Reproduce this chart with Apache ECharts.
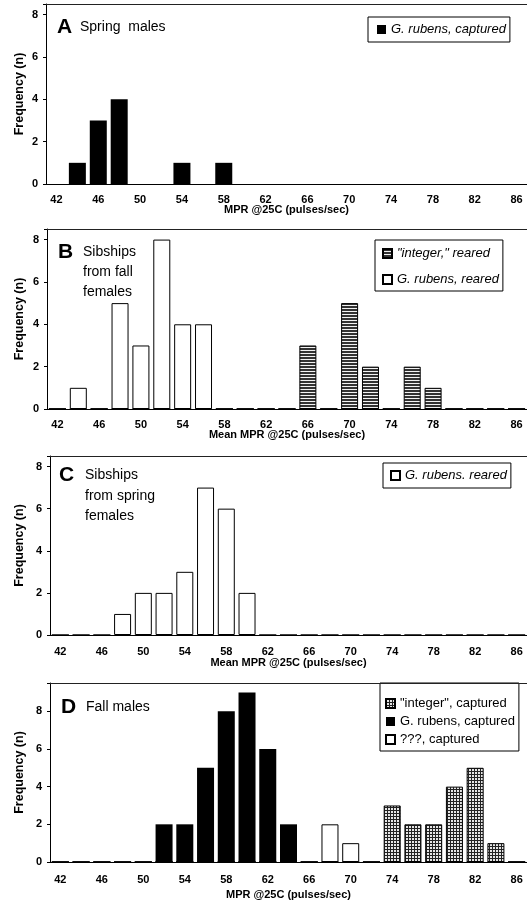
<!DOCTYPE html>
<html>
<head>
<meta charset="utf-8">
<script src="https://cdn.jsdelivr.net/npm/echarts@6/dist/echarts.min.js"></script>
<style>
  html, body { margin: 0; padding: 0; background: #fff; }
  #main { width: 527px; height: 903px; }
</style>
</head>
<body>
<div id="main"></div>
<script>
// bins of MPR (pulses/sec), 2-unit wide
const bins = ['42','44','46','48','50','52','54','56','58','60','62','64','66','68','70','72','74','76','78','80','82','84','86'];

// A  Spring males
const springRubensCaptured = [0,1,3,4,0,0,1,0,1,0,0,0,0,0,0,0,0,0,0,0,0,0,0];
// B  Sibships from fall females
const fallIntegerReared    = [0,0,0,0,0,0,0,0,0,0,0,0,3,0,5,2,0,2,1,0,0,0,0];
const fallRubensReared     = [0,1,0,5,3,8,4,4,0,0,0,0,0,0,0,0,0,0,0,0,0,0,0];
// C  Sibships from spring females
const springRubensReared   = [0,0,0,1,2,2,3,7,6,2,0,0,0,0,0,0,0,0,0,0,0,0,0];
// D  Fall males
const fallIntegerCaptured  = [0,0,0,0,0,0,0,0,0,0,0,0,0,0,0,0,3,2,2,4,5,1,0];
const fallRubensCaptured   = [0,0,0,0,0,2,2,5,8,9,6,2,0,0,0,0,0,0,0,0,0,0,0];
const fallUnknownCaptured  = [0,0,0,0,0,0,0,0,0,0,0,0,0,2,1,0,0,0,0,0,0,0,0];

const FONT = '"Liberation Sans", Arial, sans-serif';

// horizontal stripes for the reared "integer" bars
function stripePattern() {
  const c = document.createElement('canvas');
  c.width = 4; c.height = 3;
  const ctx = c.getContext('2d');
  ctx.fillStyle = '#333';
  ctx.fillRect(0, 0, 4, 3);
  ctx.fillStyle = '#f2f2f2';
  ctx.fillRect(0, 2, 4, 1);
  return c;
}
// fine grid for the captured "integer" bars
function gridPattern() {
  const c = document.createElement('canvas');
  c.width = 3; c.height = 3;
  const ctx = c.getContext('2d');
  ctx.fillStyle = '#e6e6e6';
  ctx.fillRect(0, 0, 3, 3);
  ctx.fillStyle = '#222';
  ctx.fillRect(0, 0, 3, 1);
  ctx.fillRect(0, 0, 1, 3);
  return c;
}

const panels = [
  { left: 46, top: 4,   height: 180, max: 8.5, xName: 'MPR @25C (pulses/sec)',      lblMargin: 10, nameGap: 20, yGap: 20 },
  { left: 47, top: 229, height: 180, max: 8.5, xName: 'Mean MPR @25C (pulses/sec)', lblMargin: 10, nameGap: 20, yGap: 21 },
  { left: 50, top: 456, height: 179, max: 8.5, xName: 'Mean MPR @25C (pulses/sec)', lblMargin: 11, nameGap: 22, yGap: 24 },
  { left: 50, top: 683, height: 179, max: 9.5, xName: 'MPR @25C (pulses/sec)',      lblMargin: 12, nameGap: 27, yGap: 24 }
];

const grids = [], xAxes = [], yAxes = [], frames = [];
panels.forEach((p, i) => {
  grids.push({ left: p.left, top: p.top, width: 483, height: p.height });
  // top edge of the plot frame (right edge falls outside the picture)
  frames.push({
    type: 'line', z: 5, silent: true,
    shape: { x1: p.left, y1: p.top + 0.5, x2: 527, y2: p.top + 0.5 },
    style: { stroke: '#222', lineWidth: 1 }
  });
  xAxes.push({
    type: 'category', gridIndex: i, data: bins,
    name: p.xName, nameLocation: 'middle', nameGap: p.nameGap,
    nameMoveOverlap: false,
    nameTextStyle: { fontFamily: FONT, fontWeight: 'bold', fontSize: 11, color: '#000' },
    axisLine: { lineStyle: { color: '#000', width: 1 } },
    axisTick: { interval: 0, length: 3, lineStyle: { color: '#000' } },
    axisLabel: { interval: 1, margin: p.lblMargin, fontFamily: FONT, fontWeight: 'bold', fontSize: 11, color: '#000' },
    splitLine: { show: false }
  });
  yAxes.push({
    type: 'value', gridIndex: i, min: 0, max: p.max, interval: 2,
    name: 'Frequency (n)', nameLocation: 'middle', nameRotate: 90, nameGap: p.yGap,
    nameMoveOverlap: false,
    nameTextStyle: { fontFamily: FONT, fontWeight: 'bold', fontSize: 12.5, color: '#000' },
    axisLine: { show: true, lineStyle: { color: '#000', width: 1 } },
    axisTick: { show: true, length: 3, lineStyle: { color: '#000' } },
    axisLabel: {
      margin: 8, fontFamily: FONT, fontWeight: 'bold', fontSize: 11, color: '#000',
      formatter: v => (v % 2 === 0 ? String(v) : '')
    },
    splitLine: { show: false }
  });
});

const black = { color: '#000', borderColor: '#000', borderWidth: 0 };
const white = { color: '#fff', borderColor: '#000', borderWidth: 1 };
const striped = { color: { image: stripePattern(), repeat: 'repeat' }, borderColor: '#000', borderWidth: 1 };
const gridded = { color: { image: gridPattern(), repeat: 'repeat' }, borderColor: '#000', borderWidth: 1 };

function bar(name, data, idx, style) {
  return {
    name: name, type: 'bar', data: data,
    xAxisIndex: idx, yAxisIndex: idx,
    barWidth: 17, barGap: '-100%',
    itemStyle: style
  };
}

const series = [
  bar('G. rubens, captured', springRubensCaptured, 0, black),
  bar('"integer," reared', fallIntegerReared, 1, striped),
  bar('G. rubens, reared', fallRubensReared, 1, white),
  bar('G. rubens. reared', springRubensReared, 2, white),
  bar('"integer", captured', fallIntegerCaptured, 3, gridded),
  bar('G. rubens, captured', fallRubensCaptured, 3, black),
  bar('???, captured', fallUnknownCaptured, 3, white)
];

function legend(names, left, top, padding, gap, italic) {
  return {
    data: names, left: left, top: top, orient: 'vertical',
    itemWidth: 9, itemHeight: 9, itemGap: gap, padding: padding,
    icon: 'rect', selectedMode: false,
    borderColor: '#000', borderWidth: 1, backgroundColor: '#fff',
    textStyle: { fontFamily: FONT, fontSize: 13, fontStyle: italic ? 'italic' : 'normal', color: '#000' }
  };
}

function label(text, x, y, size, bold, lineHeight) {
  return {
    type: 'text', x: x, y: y, z: 10,
    style: {
      text: text, fill: '#000', verticalAlign: 'middle',
      fontFamily: FONT, fontSize: size, fontWeight: bold ? 'bold' : 'normal',
      lineHeight: lineHeight || size
    }
  };
}

const chart = echarts.init(document.getElementById('main'));
chart.setOption({
  animation: false,
  backgroundColor: '#fff',
  grid: grids,
  xAxis: xAxes,
  yAxis: yAxes,
  legend: [
    legend(['G. rubens, captured'], 368, 17, [6, 4, 6, 9], 5, true),
    legend(['"integer," reared', 'G. rubens, reared'], 375, 240, [7, 4, 5, 7], 13, true),
    legend(['G. rubens. reared'], 383, 463, [6, 4, 6, 7], 5, true),
    legend(['"integer", captured', 'G. rubens, captured', '???, captured'], 380, 683, [14, 4, 5, 5], 5, false)
  ],
  graphic: frames.concat([
    label('A', 57, 27, 21, true),
    label('Spring  males', 80, 27, 14, false),
    label('B', 58, 252, 21, true),
    label('Sibships\nfrom fall\nfemales', 83, 272, 14, false, 20),
    label('C', 59, 475, 21, true),
    label('Sibships\nfrom spring\nfemales', 85, 496, 14, false, 20.5),
    label('D', 61, 707, 21, true),
    label('Fall males', 86, 707, 14, false)
  ]),
  series: series
});
</script>
</body>
</html>
